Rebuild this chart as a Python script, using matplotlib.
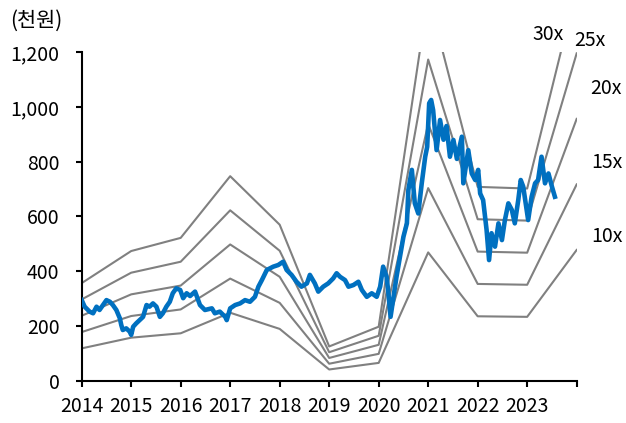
import matplotlib
matplotlib.use("Agg")
import matplotlib.pyplot as plt

plt.rcParams['font.family'] = ['Noto Sans CJK KR', 'DejaVu Sans']
plt.rcParams['font.weight'] = 'light'

# EPS per year (thousand won)
eps_years = [2014, 2015, 2016, 2017, 2018, 2019, 2020, 2021, 2022, 2023, 2024]
eps = [11.9, 15.8, 17.4, 24.9, 19.0, 4.2, 6.6, 46.9, 23.6, 23.4, 47.8]
multiples = [10, 15, 20, 25, 30]

# stock price (thousand won)
price_t = [2014.00, 2014.06, 2014.16, 2014.23, 2014.30, 2014.36, 2014.43, 2014.50, 2014.57, 2014.63,
           2014.70, 2014.77, 2014.80, 2014.83, 2014.90, 2014.97, 2015.00, 2015.04, 2015.10, 2015.17,
           2015.24, 2015.31, 2015.37, 2015.44, 2015.51, 2015.58, 2015.64, 2015.71, 2015.78, 2015.84,
           2015.91, 2015.99, 2016.05, 2016.12, 2016.19, 2016.29, 2016.39, 2016.49, 2016.63, 2016.69,
           2016.79, 2016.90, 2016.93, 2017.00, 2017.10, 2017.20, 2017.30, 2017.40, 2017.50, 2017.57,
           2017.64, 2017.74, 2017.87, 2017.97, 2018.07, 2018.14, 2018.24, 2018.34, 2018.44, 2018.55,
           2018.61, 2018.71, 2018.78, 2018.88, 2018.98, 2019.08, 2019.15, 2019.22, 2019.32, 2019.39,
           2019.49, 2019.59, 2019.66, 2019.76, 2019.86, 2019.96, 2020.03, 2020.09, 2020.16, 2020.19,
           2020.24, 2020.30, 2020.36, 2020.43, 2020.50, 2020.57, 2020.60, 2020.67, 2020.73, 2020.80,
           2020.87, 2020.94, 2020.98, 2021.02, 2021.06, 2021.10, 2021.17, 2021.24, 2021.31, 2021.37,
           2021.44, 2021.51, 2021.58, 2021.68, 2021.71, 2021.81, 2021.88, 2021.95, 2022.01, 2022.05,
           2022.11, 2022.15, 2022.18, 2022.23, 2022.28, 2022.35, 2022.42, 2022.49, 2022.55, 2022.62,
           2022.69, 2022.75, 2022.82, 2022.87, 2022.92, 2022.98, 2023.02, 2023.09, 2023.16, 2023.22,
           2023.29, 2023.36, 2023.43, 2023.50, 2023.56]
price = [295, 271, 253, 247, 271, 259, 277, 295, 289, 277,
         259, 229, 204, 186, 192, 180, 168, 198, 210, 222,
         234, 277, 271, 283, 271, 234, 247, 271, 289, 320,
         338, 332, 302, 320, 310, 326, 277, 259, 265, 247,
         253, 234, 222, 265, 277, 283, 295, 289, 307, 344,
         368, 405, 417, 423, 435, 405, 387, 362, 344, 356,
         387, 356, 326, 344, 356, 374, 393, 380, 368, 344,
         350, 362, 332, 307, 320, 307, 344, 417, 380, 332,
         234, 307, 380, 453, 526, 575, 697, 770, 648, 611,
         721, 818, 854, 1013, 1025, 988, 842, 952, 880, 930,
         818, 879, 810, 891, 721, 842, 757, 733, 770, 684,
         660, 599, 551, 441, 539, 490, 575, 514, 587, 648,
         624, 575, 660, 733, 709, 636, 587, 672, 721, 733,
         818, 721, 757, 709, 672]

fig = plt.figure(figsize=(6.26, 4.23), dpi=100)
ax = fig.add_axes([0.1305, 0.0993, 0.7907, 0.7778])

for m in multiples:
    ax.plot(eps_years, [e * m for e in eps], color='#808080', lw=1.5, zorder=2)
ax.plot(price_t, price, color='#0070C0', lw=3.3, zorder=3, solid_joinstyle='round')

ax.set_xlim(2014, 2024)
ax.set_ylim(0, 1200)
ax.set_xticks(eps_years)
ax.set_xticklabels([str(y) for y in eps_years[:-1]] + [''])
ax.set_yticks(range(0, 1201, 200))
ax.set_yticklabels(['{:,}'.format(v) for v in range(0, 1201, 200)])

for s in ['top', 'right']:
    ax.spines[s].set_visible(False)
for s in ['left', 'bottom']:
    ax.spines[s].set_linewidth(1.5)
ax.tick_params(axis='both', direction='out', length=4, width=1.5, labelsize=14, colors='black')
ax.tick_params(axis='y', pad=12)
ax.tick_params(axis='x', pad=7)

# band labels
lab_pos = {30: (548, 35), 25: (590, 41), 20: (606, 88), 15: (607, 162), 10: (607, 236)}
for m in multiples:
    px, py = lab_pos[m]
    fig.text(px / 626, 1 - py / 423, '%dx' % m, fontsize=14, ha='center', va='center')

fig.text(36 / 626, 1 - 21 / 423, '(천원)', fontsize=15, ha='center', va='center')

fig.savefig('out.png', dpi=100)
